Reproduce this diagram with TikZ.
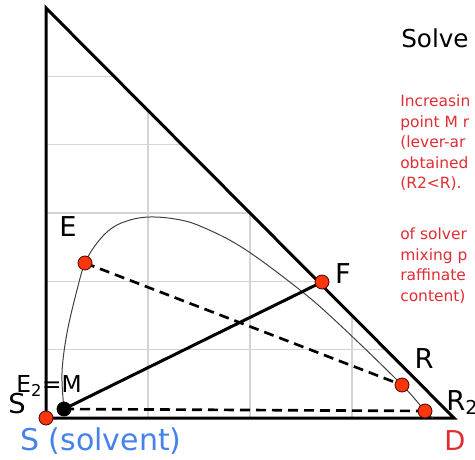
\documentclass[tikz,border=0pt]{standalone}
\usepackage{fontspec}
\setmainfont{DejaVu Sans}
\definecolor{notered}{RGB}{225,45,50}
\definecolor{solvblue}{RGB}{70,130,235}
\definecolor{dotred}{RGB}{250,55,10}
\definecolor{gridgray}{RGB}{212,212,212}
\begin{document}
\begin{tikzpicture}[x=.75pt,y=-.75pt,
  dot/.style={circle,draw=black!70!red,line width=.6pt,fill=dotred,inner sep=0pt,minimum size=10.5pt},
  lbl/.style={font=\fontsize{20.5}{24}\selectfont,inner sep=0pt,anchor=base},
  tie/.style={line width=2pt,dash pattern=on 7.5pt off 4.5pt}]
  \useasboundingbox (0,0) rectangle (475,460);
  \clip (0,0) rectangle (475,460);
  \coordinate (top) at (46,8); \coordinate (S) at (46,418); \coordinate (D) at (454,418);
  \coordinate (M) at (64,409); \coordinate (E) at (85,263); \coordinate (F) at (322,282);
  \coordinate (R) at (402,385); \coordinate (R2) at (425,411);
  % grid inside the triangle
  \begin{scope}
    \clip (top)--(S)--(D)--cycle;
    \foreach \k in {1,...,5} \draw[gridgray,line width=.8pt] (46,{418-68.33*\k})--(454,{418-68.33*\k});
    \foreach \k in {1,2,3} \draw[gridgray,line width=.8pt] ({46+102*\k},418)--({46+102*\k},8);
  \end{scope}
  \draw[line width=2.25pt] (top)--(S)--(D)--cycle;
  % binodal curve
  \draw[black!75,line width=.75pt] plot[smooth,tension=.6] coordinates {(64,409) (62,373) (67,333) (77,290) (85,263) (97,243) (112,228) (130,220) (150,217) (175,219) (200,226) (243,248) (300,290) (340,325) (402,385) (425,411) (433,418)};
  \draw[tie] (E)--(R); \draw[tie] (M)--(R2);
  \draw[line width=2.25pt] (M)--(F);
  \node[dot] (s) at (S) {}; \node[dot,fill=black,draw=black] (m) at (M) {};
  \node[dot] (e) at (E) {}; \node[dot] (f) at (F) {};
  \node[dot] (r) at (R) {}; \node[dot] (r2) at (R2) {};
  \node[lbl] (eL) at (68,236) {E}; \node[lbl] (fL) at (343,283) {F};
  \node[lbl] (rL) at (424,368) {R}; \node[lbl,anchor=base west] (r2L) at (446,410) {R\textsubscript{2}};
  \node[lbl] (sL) at (17,413) {S};
  \node[lbl,anchor=base west,font=\fontsize{17.5}{20}\selectfont] (e2L) at (16,392) {E\textsubscript{2}=M};
  \node[lbl,anchor=base west,text=solvblue,font=\fontsize{22.5}{26}\selectfont] (solvL) at (20,450) {S (solvent)};
  \node[lbl,text=notered] (dL) at (455,450) {D};
  \node[lbl,anchor=base west,font=\fontsize{18.5}{22}\selectfont] (title) at (401,48) {Solve};
  \node[anchor=north west,align=left,text=notered,font=\fontsize{11.6}{15.4}\selectfont,inner sep=0pt] (note) at (400,94.5)
    {Increasin\\point M r\\(lever-ar\\obtained\\(R2<R).\\[23pt]of solver\\mixing p\\raffinate\\content)};
\end{tikzpicture}
\end{document}
